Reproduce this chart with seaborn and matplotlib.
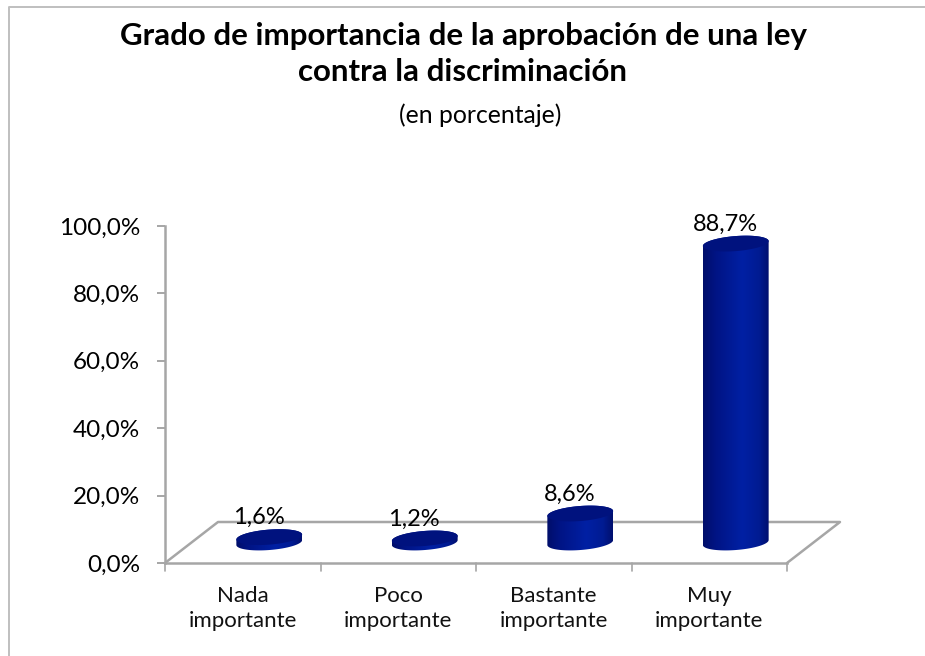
import numpy as np
import matplotlib
matplotlib.use("Agg")
import matplotlib.pyplot as plt
import seaborn as sns
from matplotlib.colors import LinearSegmentedColormap
from matplotlib.lines import Line2D
from matplotlib.patches import Polygon
from matplotlib.transforms import Affine2D, IdentityTransform

categories = ["Nada\nimportante", "Poco\nimportante", "Bastante\nimportante", "Muy\nimportante"]
values = [1.6, 1.2, 8.6, 88.7]
labels = ["1,6%", "1,2%", "8,6%", "88,7%"]
y_ticks = [0, 20, 40, 60, 80, 100]
y_ticklabels = ["0,0%", "20,0%", "40,0%", "60,0%", "80,0%", "100,0%"]

W, H = 925, 656
GRAY = "#a6a6a6"
blue_cmap = LinearSegmentedColormap.from_list(
    "cyl", [(0, "#000e6a"), (0.2, "#001485"), (0.6, "#0020a4"), (0.85, "#001b92"), (1, "#000f6e")]
)
CAP = "#00127e"

sns.set_theme(style="white")
plt.rcParams["font.family"] = ["Lato", "DejaVu Sans"]

fig = plt.figure(figsize=(W / 100, H / 100), dpi=100)
ax = fig.add_axes([165 / W, 1 - 563 / H, (787 - 165) / W, (563 - 226) / H])

sns.barplot(x=categories, y=values, width=0.424, color=CAP, ax=ax)
ax.set_xlim(-0.5, 3.5)
ax.set_ylim(0, 100)
ax.set_yticks(y_ticks, y_ticklabels, fontsize=17.5, color="black")
ax.tick_params(axis="both", length=5.8, width=1.4, color=GRAY, left=True, bottom=True)
ax.tick_params(axis="x", labelsize=16, labelcolor="#111111", pad=11, bottom=False)
ax.tick_params(axis="y", pad=12)
ax.set_xticks(range(4), categories)
for lab in ax.get_xticklabels():
    lab.set_linespacing(1.32)

for name, spine in ax.spines.items():
    spine.set_visible(name in ("left", "bottom"))
    spine.set_color(GRAY)
    spine.set_linewidth(1.8)

# category separators under the floor
for pos in np.arange(-0.5, 4):
    ax.plot([pos, pos], [0, -0.024], transform=ax.get_xaxis_transform(), color=GRAY, lw=1.2, clip_on=False)

# 3D floor, depth taken in pixels from the axes corners
depth = (53, 41)
fig.canvas.draw()
x0, y0 = ax.transAxes.transform((0, 0))
x1, _ = ax.transAxes.transform((1, 0))
floor_x = [x0, x0 + depth[0], x1 + depth[0], x1]
floor_y = [y0, y0 + depth[1], y0 + depth[1], y0]
ax.add_line(Line2D(floor_x, floor_y, transform=IdentityTransform(), color=GRAY, lw=1.8, clip_on=False, zorder=1))

# cylinders sit half way back on the floor
shift = Affine2D().translate(depth[0] / 2, depth[1] / 2)
semi_a, semi_b, tilt = 33, 7.5, np.deg2rad(4.5)


def ellipse_pts(cx, cy, t):
    ex, ey = semi_a * np.cos(t), semi_b * np.sin(t)
    return np.column_stack([cx + ex * np.cos(tilt) - ey * np.sin(tilt),
                            cy + ex * np.sin(tilt) + ey * np.cos(tilt)])


gradient = np.linspace(0, 1, 256).reshape(1, -1)
for bar, value, label in zip(list(ax.patches), values, labels):
    xc = bar.get_x() + bar.get_width() / 2
    base = ax.transData.transform((xc, 0)) + np.array(depth) / 2
    top = ax.transData.transform((xc, value)) + np.array(depth) / 2
    bar.set_visible(False)

    lower = ellipse_pts(base[0], base[1], np.linspace(np.pi, 2 * np.pi, 60))
    upper = ellipse_pts(top[0], top[1], np.linspace(0, np.pi, 60))
    body = Polygon(np.vstack([lower, upper]), closed=True, transform=IdentityTransform(), fc="none", ec="none")
    ax.add_patch(body)
    body.set_clip_on(False)

    im = ax.imshow(gradient, cmap=blue_cmap, aspect="auto", zorder=3, interpolation="bilinear",
                   extent=(bar.get_x(), bar.get_x() + bar.get_width(), -20, value + 20))
    im.set_transform(ax.transData + shift)
    im.set_clip_path(body)

    cap = Polygon(ellipse_pts(top[0], top[1], np.linspace(0, 2 * np.pi, 120)), closed=True,
                  transform=IdentityTransform(), fc=CAP, ec="none", zorder=4, clip_on=False)
    ax.add_patch(cap)

    ax.annotate(label, (xc, value), xytext=(16, 40), textcoords="offset pixels", ha="center", va="center",
                fontsize=17, color="black", zorder=6, annotation_clip=False)

ax.set_xlim(-0.5, 3.5)
ax.set_ylim(0, 100)
ax.set_aspect("auto")

fig.text(463 / W, 1 - 54 / H, "Grado de importancia de la aprobación de una ley\ncontra la discriminación",
         ha="center", va="center", fontsize=22.5, fontweight="bold", color="black", linespacing=1.32)
fig.text(480 / W, 1 - 115 / H, "(en porcentaje)", ha="center", va="center", fontsize=17.8, color="black")

# the frame is cut off at the right and bottom of the picture
fig.add_artist(Line2D([9 / W, 9 / W, 1], [0, 1 - 6.5 / H, 1 - 6.5 / H], transform=fig.transFigure,
                      color="#bfbfbf", lw=1.4))

fig.savefig("out.png", dpi=100)
